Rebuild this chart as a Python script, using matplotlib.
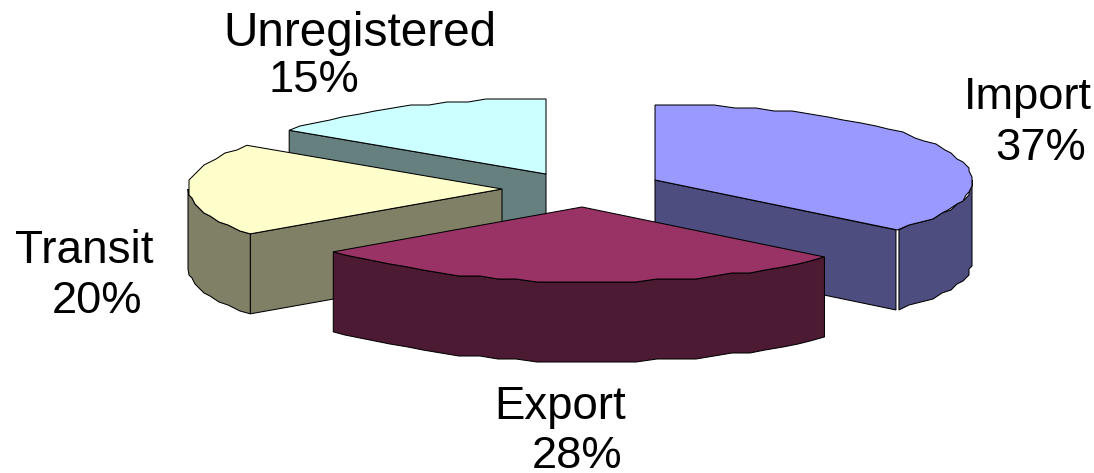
import numpy as np
import matplotlib
matplotlib.use("Agg")
import matplotlib.pyplot as plt

plt.rcParams["font.family"] = ["Liberation Sans", "DejaVu Sans"]

# Data
LABELS = ["Import", "Export", "Transit", "Unregistered"]
VALUES = [36.6, 28.2, 20.1, 15.1]

TOP_COLORS = ["#9999FF", "#993366", "#FFFFCC", "#CCFFFF"]
SIDE_COLORS = ["#4D4D80", "#4D1A33", "#808066", "#668080"]

# Layout (pixels)
APEX = [(655, 180), (582, 207), (502, 189), (546, 174)]
RX = [317, 317, 314, 316]
RY = 75
DEPTH = 80
LEAN = [0.12, 0.12, 0, 0]  # front of the slice leans outwards a bit
NAME_POS = [(964, 109), (494, 419), (15, 263), (223, 46)]
PCT_POS = [(995, 160), (532, 468), (52, 313), (268, 92)]
NAME_PT = [32.6, 32.8, 33, 34.4]
PCT_PT = 32.6
GAP = 1.5


def arc(i, a0, a1):
    # rim of a slice, angles clockwise from 12 o'clock, rough like the old renderer
    n = max(2, int(abs(a1 - a0) / 3.6) + 1)
    t = np.radians(np.linspace(a0, a1, n))
    dy = -RY * np.cos(t)
    x = APEX[i][0] + RX[i] * np.sin(t) + LEAN[i] * np.maximum(dy, 0)
    y = APEX[i][1] + dy
    y[1:-1] = np.round(y[1:-1] / 3) * 3
    x[1:-1] = np.round(x[1:-1] / 3) * 3
    return x, y


def poly(ax, x, y, color, z):
    ax.fill(x, y, facecolor=color, edgecolor="black", linewidth=0.75,
            joinstyle="miter", zorder=z)


def rim_side(ax, i, a0, a1, z, shift_end=0):
    x, y = arc(i, a0, a1)
    x[-1] += shift_end
    poly(ax, np.r_[x, x[::-1]], np.r_[y, y[::-1] + DEPTH], SIDE_COLORS[i], z)


def radial_side(ax, i, a, z, shift=0):
    x, y = arc(i, a, a + 1)
    px, py = x[0] + shift, y[0]
    cx, cy = APEX[i]
    poly(ax, [cx, px, px, cx], [cy, py, py + DEPTH, cy + DEPTH], SIDE_COLORS[i], z)


def top(ax, i, a0, a1, z):
    x, y = arc(i, a0, a1)
    poly(ax, np.r_[APEX[i][0], x], np.r_[APEX[i][1], y], TOP_COLORS[i], z)


fig = plt.figure(figsize=(10.94, 4.73), dpi=100)
ax = fig.add_axes([0, 0, 1, 1])
ax.set_xlim(0, 1094)
ax.set_ylim(473, 0)
ax.axis("off")

edges = np.r_[0, np.cumsum(VALUES)] / sum(VALUES) * 360
starts = edges[:-1]
ends = edges[1:]

# back to front: Unregistered, Transit, Import, Export
radial_side(ax, 3, starts[3], 1)
top(ax, 3, starts[3], ends[3], 2)

radial_side(ax, 2, starts[2], 3)
rim_side(ax, 2, starts[2], 270, 3)
top(ax, 2, starts[2], ends[2], 4)

# the white sliver between the two side faces of Import
radial_side(ax, 0, ends[0], 5, shift=-GAP)
rim_side(ax, 0, 90, ends[0], 5, shift_end=GAP)
top(ax, 0, starts[0], ends[0], 6)

rim_side(ax, 1, starts[1], ends[1], 7)
top(ax, 1, starts[1], ends[1], 8)

for name, val, npos, ppos, size in zip(LABELS, VALUES, NAME_POS, PCT_POS, NAME_PT):
    ax.text(npos[0], npos[1], name, fontsize=size, ha="left", va="baseline", zorder=10)
    ax.text(ppos[0], ppos[1], f"{round(val)}%", fontsize=PCT_PT, ha="left", va="baseline", zorder=10)

fig.savefig("out.png", dpi=100)
